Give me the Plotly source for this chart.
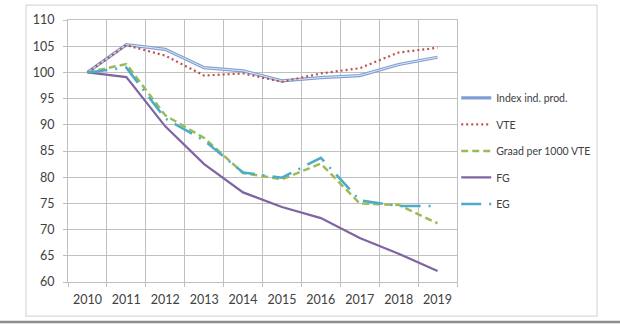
import plotly.graph_objects as go

years = ["2010", "2011", "2012", "2013", "2014", "2015", "2016", "2017", "2018", "2019"]
index_ind_prod = [100, 105.3, 104.4, 100.9, 100.3, 98.4, 99.0, 99.4, 101.5, 102.9]
vte = [100, 105.2, 103.2, 99.4, 99.8, 98.2, 99.8, 100.8, 103.8, 104.7]
graad = [100, 101.6, 91.8, 87.5, 80.8, 79.6, 82.6, 75.0, 74.7, 71.2]
fg = [100, 99.1, 89.7, 82.5, 77.1, 74.3, 72.2, 68.4, 65.4, 62.1]
eg = [100, 100.9, 91.2, 87.0, 80.9, 79.9, 83.7, 75.6, 74.5, 74.5]

fig = go.Figure()

fig.add_trace(go.Scatter(x=years, y=index_ind_prod, mode="lines", name="Index ind. prod.",
                         line=dict(color="#7f9fd4", width=3.2), legendgroup="a"))
fig.add_trace(go.Scatter(x=years, y=index_ind_prod, mode="lines", showlegend=False,
                         line=dict(color="#dfe8f6", width=1), legendgroup="a", hoverinfo="skip"))
fig.add_trace(go.Scatter(x=years, y=vte, mode="lines", name="VTE",
                         line=dict(color="#c0504d", width=2.2, dash="2px,3px"), legendgroup="b"))
fig.add_trace(go.Scatter(x=years, y=graad, mode="lines", name="Graad per 1000 VTE",
                         line=dict(color="#9bbb59", width=2.5, dash="7px,4px"), legendgroup="c"))
fig.add_trace(go.Scatter(x=years, y=fg, mode="lines", name="FG",
                         line=dict(color="#8064a2", width=2.2), legendgroup="d"))
fig.add_trace(go.Scatter(x=years, y=eg, mode="lines", name="EG",
                         line=dict(color="#4bacc6", width=2.5, dash="20px,8px,2px,8px"), legendgroup="e"))

grid = "#bfbfbf"
fig.update_layout(
    width=620, height=325,
    margin=dict(l=68, r=163, t=20, b=43),
    paper_bgcolor="white", plot_bgcolor="white",
    font=dict(family="Lato", size=12, color="#404040"),
    showlegend=True,
    legend=dict(x=0.998, y=0.758, xanchor="left", yanchor="top",
                font=dict(size=10.5, color="#404040"), tracegroupgap=7.5,
                bgcolor="rgba(0,0,0,0)"),
    xaxis=dict(type="category", range=[-0.5, 9.5], tickson="boundaries", ticks="outside", ticklen=4,
               tickcolor=grid, showgrid=True, gridcolor=grid, gridwidth=1,
               showline=True, linecolor=grid, mirror=True, ticklabelstandoff=6,
               tickfont=dict(size=12.5, color="#404040")),
    yaxis=dict(range=[60, 110], dtick=5, ticks="outside", ticklen=4, tickcolor=grid,
               showgrid=True, gridcolor=grid, gridwidth=1, showline=True, linecolor=grid,
               mirror=True, zeroline=False, ticklabelstandoff=6,
               tickfont=dict(size=12.5, color="#404040")),
    shapes=[
        dict(type="rect", xref="paper", yref="paper", x0=-0.108, x1=1.36, y0=-0.13, y1=1.057,
             line=dict(color="#d9d9d9", width=1.2), fillcolor="rgba(0,0,0,0)", layer="below"),
        dict(type="line", xref="paper", yref="paper", x0=-0.2, x1=1.45, y0=-0.1527, y1=-0.1527,
             line=dict(color="#8c8c8c", width=2.5)),
    ],
)

fig.write_html("out.html")
